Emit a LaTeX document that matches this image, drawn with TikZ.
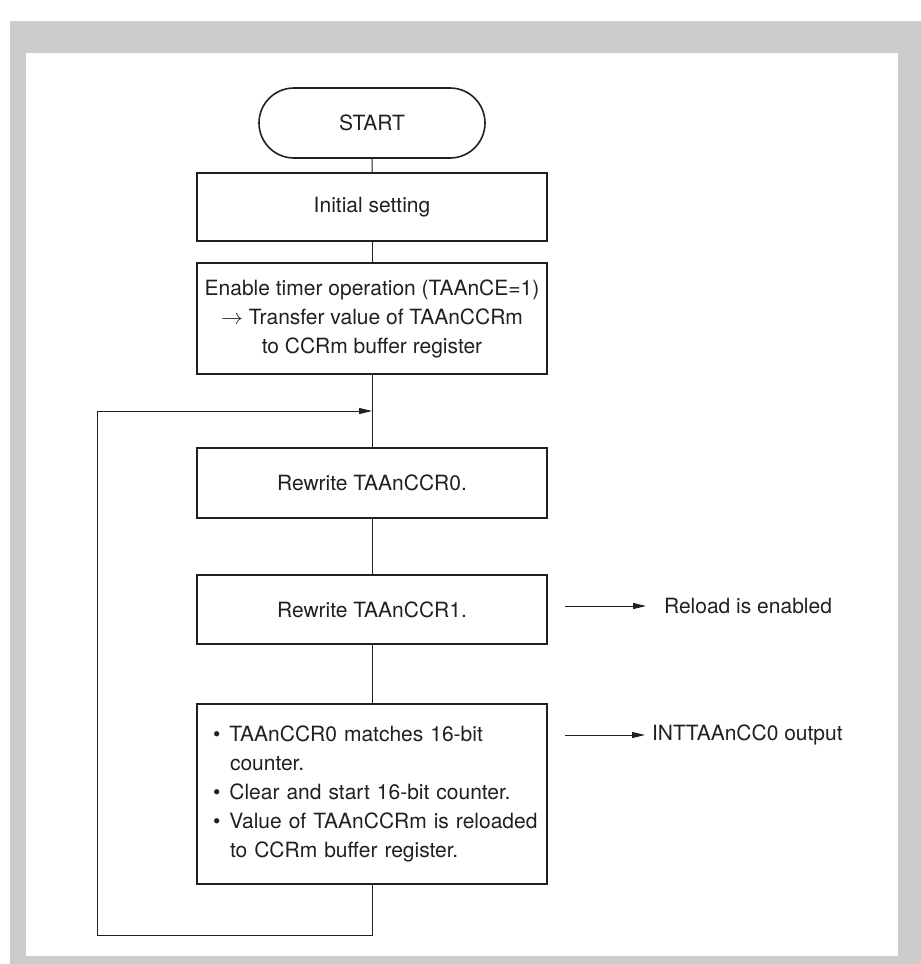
\documentclass[tikz,border=0pt]{standalone}
\usepackage{fontspec}
\setmainfont{TeX Gyre Heros}
\usetikzlibrary{arrows.meta,shapes.misc}

\definecolor{ink}{HTML}{231F20}
\definecolor{framegray}{HTML}{CCCCCC}

\begin{document}
\begin{tikzpicture}[x=0.5pt,y=-0.5pt,
          every node/.style={font=\fontsize{10.5}{14.5}\selectfont, text=ink},
          box/.style={draw=ink, line width=0.8pt, minimum width=175pt, inner sep=0pt, align=center},
          flow/.style={draw=ink, line width=0.5pt},
          tip/.style={-{Triangle[length=6.5pt,width=3pt]}}]
        % frame
        \useasboundingbox (0,0) rectangle (921,964);
        \fill[framegray] (10,21) rectangle (921,964);
        \fill[white] (26,53) rectangle (898,956);
        % main column
        \node[box, rounded rectangle, minimum width=113pt, minimum height=35pt] (start) at (372,123) {START};
        \node[box, minimum height=34pt] (init) at (372,207) {Initial setting};
        \node[box, minimum height=55.5pt] (enable) at (372,318.5)
            {Enable timer operation (TAAnCE=1)\\$\rightarrow$ Transfer value of TAAnCCRm\\to CCRm buffer register};
        \node[box, minimum height=35pt] (rw0) at (372,483) {Rewrite TAAnCCR0.};
        \node[box, minimum height=34.5pt] (rw1) at (372,609.5) {Rewrite TAAnCCR1.};
        \node[box, minimum height=90pt, text width=170pt, inner xsep=2.5pt, align=left] (match) at (372,794)
            {\hspace*{5.5pt}\textbullet\hspace{4.5pt}TAAnCCR0 matches 16-bit\\
             \hspace*{14pt}counter.\\
             \hspace*{5.5pt}\textbullet\hspace{4.5pt}Clear and start 16-bit counter.\\
             \hspace*{5.5pt}\textbullet\hspace{4.5pt}Value of TAAnCCRm is reloaded\\
             \hspace*{14pt}to CCRm buffer register.};
        % side notes
        \node[anchor=west] (reload) at (657,606) {Reload is enabled};
        \node[anchor=west] (intt) at (645,735) {INTTAAnCC0 output};
        \coordinate (rla) at (565,606);
        \coordinate (ita) at (565,735);
        \draw[flow,tip,shorten >=5.5pt] (rla) -- (reload.west);
        \draw[flow,tip] (ita) -- (intt.west);
        % connectors
        \draw[flow] (start) -- (init);
        \draw[flow] (init) -- (enable);
        \draw[flow] (enable) -- (rw0);
        \draw[flow] (rw0) -- (rw1);
        \draw[flow] (rw1) -- (match);
        % loop back
        \coordinate (join) at (372,411);
        \coordinate (lpcorner) at (97,935);
        \draw[flow,tip] (match.south) |- (lpcorner) |- (join);
      \end{tikzpicture}
\end{document}
